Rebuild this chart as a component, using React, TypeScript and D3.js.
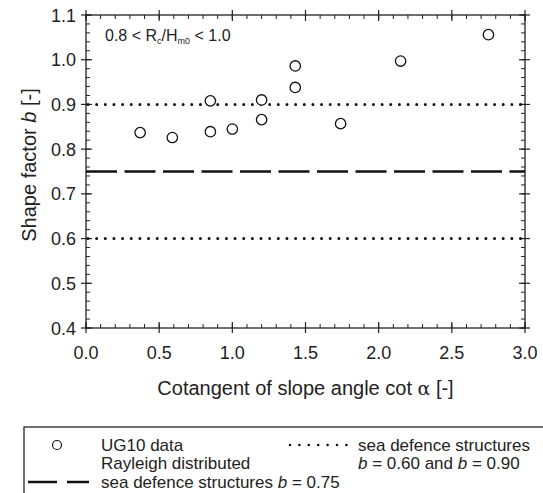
import React, { useEffect, useRef } from 'react';
import * as d3 from 'd3';

// UG10 data, Rayleigh distributed (0.8 < Rc/Hm0 < 1.0)
const cotAlpha = [0.37, 0.59, 0.85, 0.85, 1.0, 1.2, 1.2, 1.43, 1.43, 1.74, 2.15, 2.75];
const shapeB = [0.837, 0.826, 0.908, 0.839, 0.845, 0.91, 0.866, 0.986, 0.938, 0.857, 0.997, 1.056];

const dottedLevels = [0.6, 0.9];
const dashedLevel = 0.75;

const xTicks = [0, 0.5, 1.0, 1.5, 2.0, 2.5, 3.0];
const yTicks = [0.4, 0.5, 0.6, 0.7, 0.8, 0.9, 1.0, 1.1];

const W = 543;
const H = 493;
const FONT = 'Liberation Sans, Arial, sans-serif';

const App = () => {
  const svgRef = useRef<SVGSVGElement>(null);

  useEffect(() => {
    const svg = d3.select(svgRef.current);
    svg.selectAll('*').remove();

    const left = 86, right = 525, top = 15, bottom = 328;
    const x = d3.scaleLinear().domain([0, 3]).range([left, right]);
    const y = d3.scaleLinear().domain([0.4, 1.1]).range([bottom, top]);

    const g = svg.append('g');

    // minor ticks
    const xMinor = d3.range(0, 3.0001, 0.1);
    const yMinor = d3.range(0.4, 1.1001, 0.02);
    const tickCol = '#222';
    xMinor.forEach((v) => {
      g.append('line').attr('x1', x(v)).attr('x2', x(v)).attr('y1', bottom).attr('y2', bottom - 4)
        .attr('stroke', tickCol).attr('stroke-width', 1);
      g.append('line').attr('x1', x(v)).attr('x2', x(v)).attr('y1', top).attr('y2', top + 4)
        .attr('stroke', tickCol).attr('stroke-width', 1);
    });
    yMinor.forEach((v) => {
      g.append('line').attr('x1', left).attr('x2', left + 4).attr('y1', y(v)).attr('y2', y(v))
        .attr('stroke', tickCol).attr('stroke-width', 1);
      g.append('line').attr('x1', right).attr('x2', right - 4).attr('y1', y(v)).attr('y2', y(v))
        .attr('stroke', tickCol).attr('stroke-width', 1);
    });
    // major ticks crossing the axes
    xTicks.forEach((v) => {
      g.append('line').attr('x1', x(v)).attr('x2', x(v)).attr('y1', bottom + 5).attr('y2', bottom - 6)
        .attr('stroke', tickCol).attr('stroke-width', 1.2);
      g.append('line').attr('x1', x(v)).attr('x2', x(v)).attr('y1', top - 5).attr('y2', top + 6)
        .attr('stroke', tickCol).attr('stroke-width', 1.2);
    });
    yTicks.forEach((v) => {
      g.append('line').attr('x1', left - 5).attr('x2', left + 6).attr('y1', y(v)).attr('y2', y(v))
        .attr('stroke', tickCol).attr('stroke-width', 1.2);
      g.append('line').attr('x1', right + 5).attr('x2', right - 6).attr('y1', y(v)).attr('y2', y(v))
        .attr('stroke', tickCol).attr('stroke-width', 1.2);
    });

    // frame
    g.append('rect').attr('x', left).attr('y', top).attr('width', right - left).attr('height', bottom - top)
      .attr('fill', 'none').attr('stroke', '#222').attr('stroke-width', 1.3);

    // tick labels
    g.selectAll('.xl').data(xTicks).join('text')
      .attr('x', (d) => x(d)).attr('y', bottom + 31)
      .attr('text-anchor', 'middle').attr('font-size', 18).attr('font-family', FONT).attr('fill', '#222')
      .text((d) => d3.format('.1f')(d));
    g.selectAll('.yl').data(yTicks).join('text')
      .attr('x', left - 10).attr('y', (d) => y(d) + 6.5)
      .attr('text-anchor', 'end').attr('font-size', 18).attr('font-family', FONT).attr('fill', '#222')
      .text((d) => d3.format('.1f')(d));

    // axis titles
    const xt = g.append('text').attr('x', (left + right) / 2).attr('y', 395)
      .attr('text-anchor', 'middle').attr('font-size', 20).attr('font-family', FONT).attr('fill', '#222');
    xt.append('tspan').text('Cotangent of slope angle cot ');
    xt.append('tspan').attr('font-family', 'DejaVu Serif, serif').attr('font-size', 19).text('α');
    xt.append('tspan').text(' [-]');

    const yt = g.append('text').attr('transform', `translate(36,165) rotate(-90)`)
      .attr('text-anchor', 'middle').attr('font-size', 20).attr('font-family', FONT).attr('fill', '#222');
    yt.append('tspan').text('Shape factor ');
    yt.append('tspan').attr('font-style', 'italic').text('b');
    yt.append('tspan').text(' [-]');

    // annotation
    const ann = g.append('text').attr('x', 105).attr('y', 41)
      .attr('font-size', 16).attr('font-family', FONT).attr('fill', '#222');
    ann.append('tspan').text('0.8 < R');
    ann.append('tspan').attr('font-size', 9).attr('dy', 3).text('c');
    ann.append('tspan').attr('dy', -3).text('/H');
    ann.append('tspan').attr('font-size', 9).attr('dy', 3).text('m0');
    ann.append('tspan').attr('dy', -3).text(' < 1.0');

    // reference lines
    dottedLevels.forEach((v) => {
      g.append('line').attr('x1', x(0) + 2).attr('x2', x(3)).attr('y1', y(v)).attr('y2', y(v))
        .attr('stroke', '#111').attr('stroke-width', 3).attr('stroke-linecap', 'round')
        .attr('stroke-dasharray', '0 8.65');
    });
    g.append('line').attr('x1', x(0)).attr('x2', x(3)).attr('y1', y(dashedLevel)).attr('y2', y(dashedLevel))
      .attr('stroke', '#111').attr('stroke-width', 2.4).attr('stroke-dasharray', '31 7.5');

    // data points
    g.selectAll('.pt').data(cotAlpha).join('circle')
      .attr('cx', (d) => x(d)).attr('cy', (_d, i) => y(shapeB[i])).attr('r', 5.2)
      .attr('fill', 'white').attr('stroke', '#111').attr('stroke-width', 1.3);

    // legend
    const lg = svg.append('g');
    lg.append('rect').attr('x', 24).attr('y', 427).attr('width', 560).attr('height', 100)
      .attr('fill', 'none').attr('stroke', '#222').attr('stroke-width', 1.3);
    const lf = (sel: any) => sel.attr('font-size', 17).attr('font-family', FONT).attr('fill', '#222');
    lg.append('circle').attr('cx', 57).attr('cy', 445).attr('r', 4.5)
      .attr('fill', 'white').attr('stroke', '#111').attr('stroke-width', 1.2);
    lf(lg.append('text').attr('x', 101).attr('y', 451)).text('UG10 data');
    lf(lg.append('text').attr('x', 101).attr('y', 469)).text('Rayleigh distributed');
    lg.append('line').attr('x1', 290).attr('x2', 348).attr('y1', 445).attr('y2', 445)
      .attr('stroke', '#111').attr('stroke-width', 2.6).attr('stroke-linecap', 'round')
      .attr('stroke-dasharray', '0 9.4');
    lf(lg.append('text').attr('x', 358).attr('y', 451)).text('sea defence structures');
    const lt = lf(lg.append('text').attr('x', 358).attr('y', 469));
    lt.append('tspan').attr('font-style', 'italic').text('b');
    lt.append('tspan').text(' = 0.60 and ');
    lt.append('tspan').attr('font-style', 'italic').text('b');
    lt.append('tspan').text(' = 0.90');
    lg.append('line').attr('x1', 28).attr('x2', 89).attr('y1', 482).attr('y2', 482)
      .attr('stroke', '#111').attr('stroke-width', 2.4).attr('stroke-dasharray', '29 10');
    const lt2 = lf(lg.append('text').attr('x', 101).attr('y', 488));
    lt2.append('tspan').text('sea defence structures ');
    lt2.append('tspan').attr('font-style', 'italic').text('b');
    lt2.append('tspan').text(' = 0.75');
  }, []);

  return (
    <svg ref={svgRef} width={W} height={H}
      style={{ position: 'absolute', left: 0, top: 0, background: 'white' }} />
  );
};

export default App;
